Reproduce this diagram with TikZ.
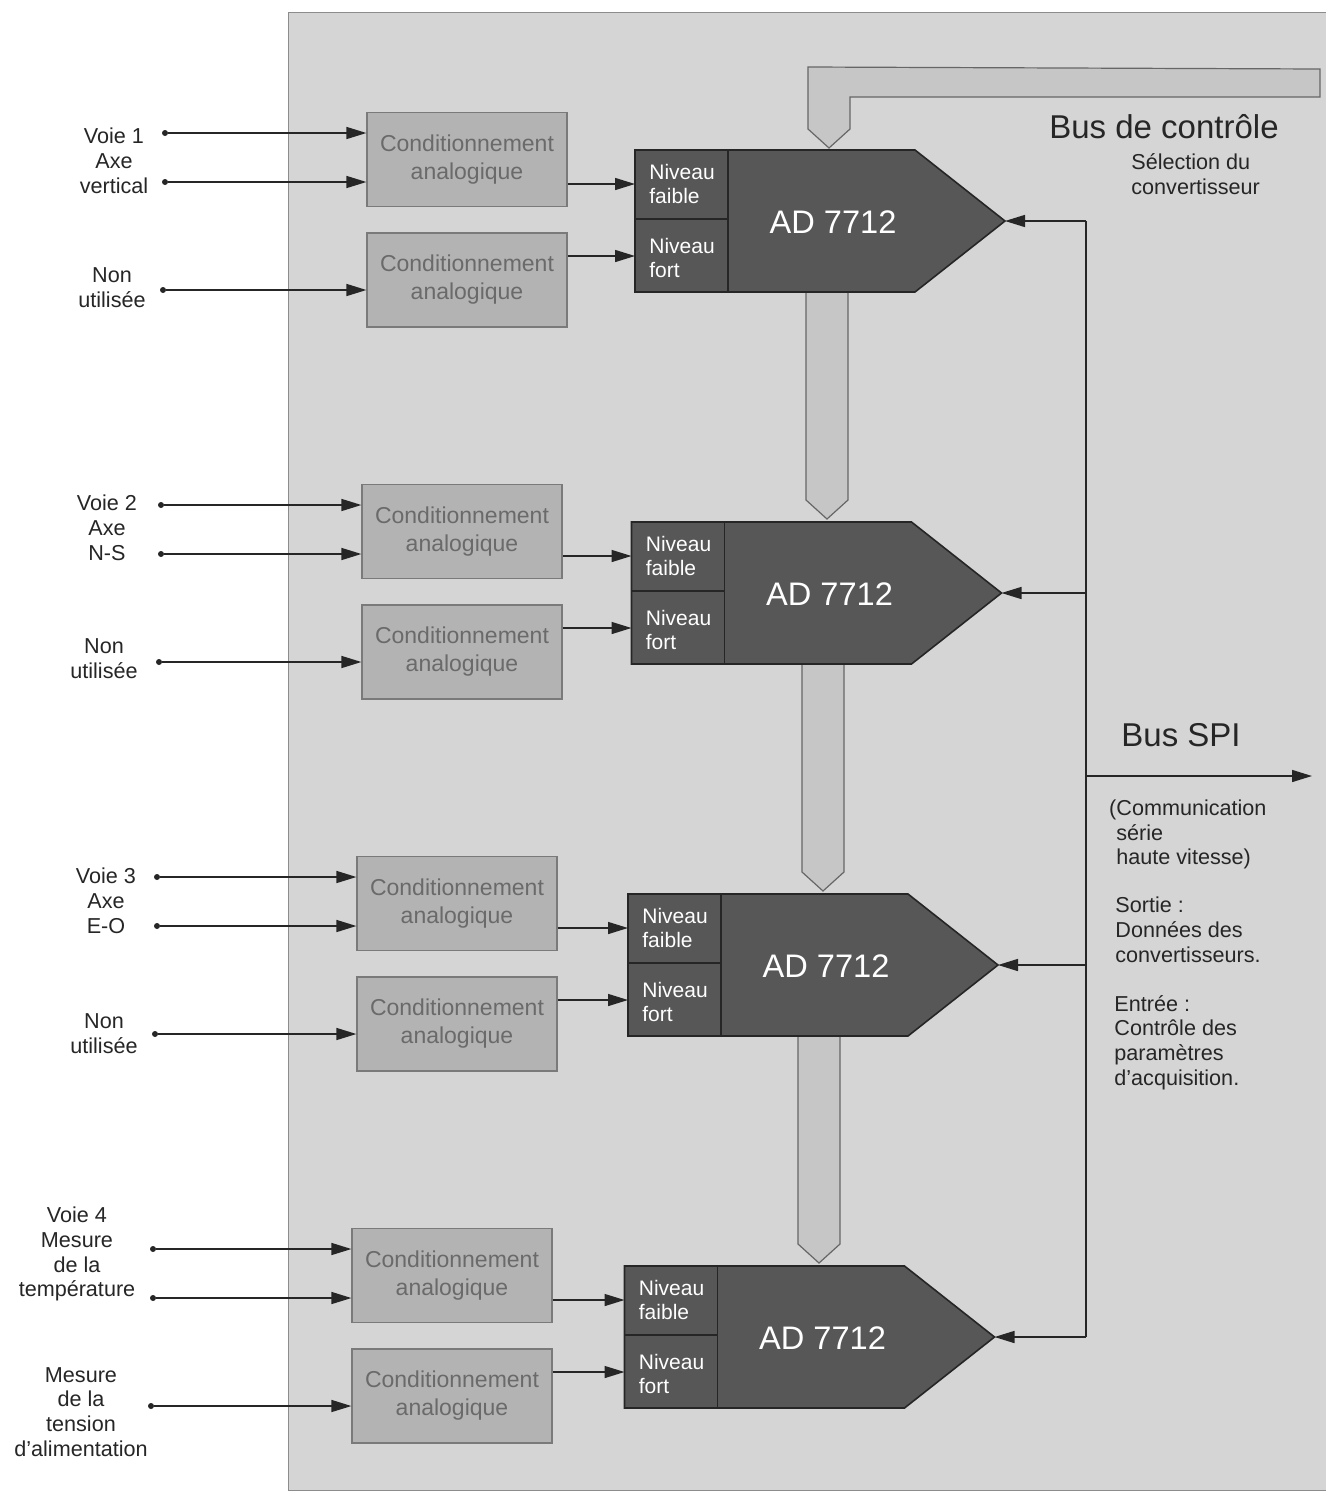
\documentclass[tikz,border=0pt]{standalone}
\usepackage{fontspec}
\setmainfont{Liberation Sans}
\usetikzlibrary{arrows.meta,calc}
\definecolor{panel}{HTML}{D5D5D5}
\definecolor{boxfill}{HTML}{B3B3B3}
\definecolor{boxline}{HTML}{7A7A7A}
\definecolor{boxtext}{HTML}{6A6A6A}
\definecolor{adcfill}{HTML}{575757}
\definecolor{busfill}{HTML}{C6C6C6}
\definecolor{ink}{HTML}{262626}
\tikzset{
  condbox/.style={draw=boxline, line width=0.6pt, fill=boxfill, minimum width=100pt, minimum height=47pt, inner sep=0pt, align=center, text=boxtext, font=\fontsize{11.5}{14}\selectfont},
  inlabel/.style={align=center, text=ink, inner sep=0pt, font=\fontsize{10.8}{12.4}\selectfont},
  sidetext/.style={align=left, anchor=west, text=ink, inner sep=0pt, font=\fontsize{10.8}{12.4}\selectfont},
  bigtext/.style={text=ink, inner sep=0pt, font=\fontsize{16.5}{19}\selectfont},
  sig/.style={draw=ink, line width=0.75pt, -{Triangle[length=10pt,width=6pt]}},
  wire/.style={draw=ink, line width=0.75pt},
  pin/.style={circle, fill=ink, inner sep=0pt, minimum size=3pt},
  adcbody/.style={fill=adcfill, draw=black!85, line width=0.8pt},
  adcline/.style={draw=black!85, line width=0.6pt},
  cell/.style={text=white, align=left, anchor=west, inner sep=0pt, font=\fontsize{10.5}{12}\selectfont},
  adctext/.style={text=white, inner sep=0pt, font=\fontsize{16.3}{19}\selectfont},
  busarrow/.style={fill=busfill, draw=black!60, line width=0.6pt, line join=miter},
}
\begin{document}
\begin{tikzpicture}[x=0.5pt,y=-0.5pt]
\useasboundingbox (0,0) rectangle (1326,1500);
\fill[white] (0,0) rectangle (1326,1500);
\filldraw[fill=panel, draw=black!45, line width=0.5pt] (1330,12) -- (288,12) -- (288,1490) -- (1330,1490);

% top control bus
\coordinate (topbus) at (829,148);
\filldraw[busarrow] (808,67) -- (1320,69) -- (1320,97) -- (850,97) -- (850,129) -- (topbus) -- (808,129) -- cycle;

\foreach \i in {1,2,3,4}{
  \pgfmathsetmacro{\dy}{372*(\i-1)}
  \pgfmathsetmacro{\bx}{467-5*(\i-1)}
  \pgfmathsetmacro{\ax}{635-3.5*(\i-1)}
  \pgfmathsetmacro{\px}{165-4*(\i-1)}
  \pgfmathsetmacro{\cx}{827-4*(\i-1)}
  % data bus arrow to next converter
  \ifnum\i<4
    \filldraw[busarrow] (\cx-21,292+\dy) -- (\cx+21,292+\dy) -- (\cx+21,500+\dy) -- (\cx,519+\dy) -- (\cx-21,500+\dy) -- cycle;
  \fi
  % conditioning boxes
  \node[condbox] (ca\i) at (\bx,159.5+\dy) {Conditionnement\\analogique};
  \node[condbox] (cb\i) at (\bx,280+\dy) {Conditionnement\\analogique};
  % converter
  \filldraw[adcbody] (\ax,150+\dy) -- (\ax+280,150+\dy) -- (\ax+370,221+\dy) -- (\ax+280,292+\dy) -- (\ax,292+\dy) -- cycle;
  \draw[adcline] (\ax+93,150+\dy) -- (\ax+93,292+\dy);
  \draw[adcline] (\ax,219+\dy) -- (\ax+93,219+\dy);
  \node[adctext] (adc\i) at (\ax+198,222+\dy) {AD 7712};
  \node[cell] (lo\i) at (\ax+14,184+\dy) {Niveau\\faible};
  \node[cell] (hi\i) at (\ax+14,258+\dy) {Niveau\\fort};
  \coordinate (inlo\i) at (\ax,184+\dy);
  \coordinate (inhi\i) at (\ax,256+\dy);
  \coordinate (tip\i) at (\ax+370,221+\dy);
  \coordinate (ct\i) at (1086,221+\dy);
  \draw[sig] (ca\i.east |- inlo\i) -- (inlo\i);
  \draw[sig] (cb\i.east |- inhi\i) -- (inhi\i);
  \draw[sig] (ct\i) -- (tip\i);
  % inputs
  \node[pin] (pa\i) at (\px,133+\dy) {};
  \node[pin] (pb\i) at (\px,182+\dy) {};
  \node[pin] (pc\i) at (\px-2,290+\dy) {};
  \draw[sig] (pa\i) -- (pa\i -| ca\i.west);
  \draw[sig] (pb\i) -- (pb\i -| ca\i.west);
  \draw[sig] (pc\i) -- (pc\i -| cb\i.west);
}

% control / SPI line
\draw[wire] (ct1) -- (ct4);
\coordinate (spiA) at (1086,776);
\coordinate (spiB) at (1312,776);
\draw[sig] (spiA) -- (spiB);

% input labels
\node[inlabel] (l1) at (114,161) {Voie 1\\Axe\\vertical};
\node[inlabel] (l1n) at (112,287.5) {Non\\utilisée};
\node[inlabel] (l2) at (107,528) {Voie 2\\Axe\\N-S};
\node[inlabel] (l2n) at (104,659) {Non\\utilisée};
\node[inlabel] (l3) at (106,901) {Voie 3\\Axe\\E-O};
\node[inlabel] (l3n) at (104,1034) {Non\\utilisée};
\node[inlabel] (l4) at (77,1254) {Voie 4\\Mesure\\de la\\température};
\node[inlabel] (l4n) at (81,1412) {Mesure\\de la\\tension\\d’alimentation};

% right side texts
\node[bigtext] (bctl) at (1164,127) {Bus de contrôle};
\node[sidetext] (sel) at (1131,174.5) {Sélection du\\convertisseur};
\node[bigtext] (bspi) at (1181,735) {Bus SPI};
\node[sidetext] (comm) at (1116,834.5) {\llap{(}Communication\\série\\haute vitesse)};
\node[sidetext] (sortie) at (1115,930) {Sortie :\\Données des\\convertisseurs.};
\node[sidetext] (entree) at (1114,1042.5) {Entrée :\\Contrôle des\\paramètres\\d’acquisition.};
\end{tikzpicture}
\end{document}
